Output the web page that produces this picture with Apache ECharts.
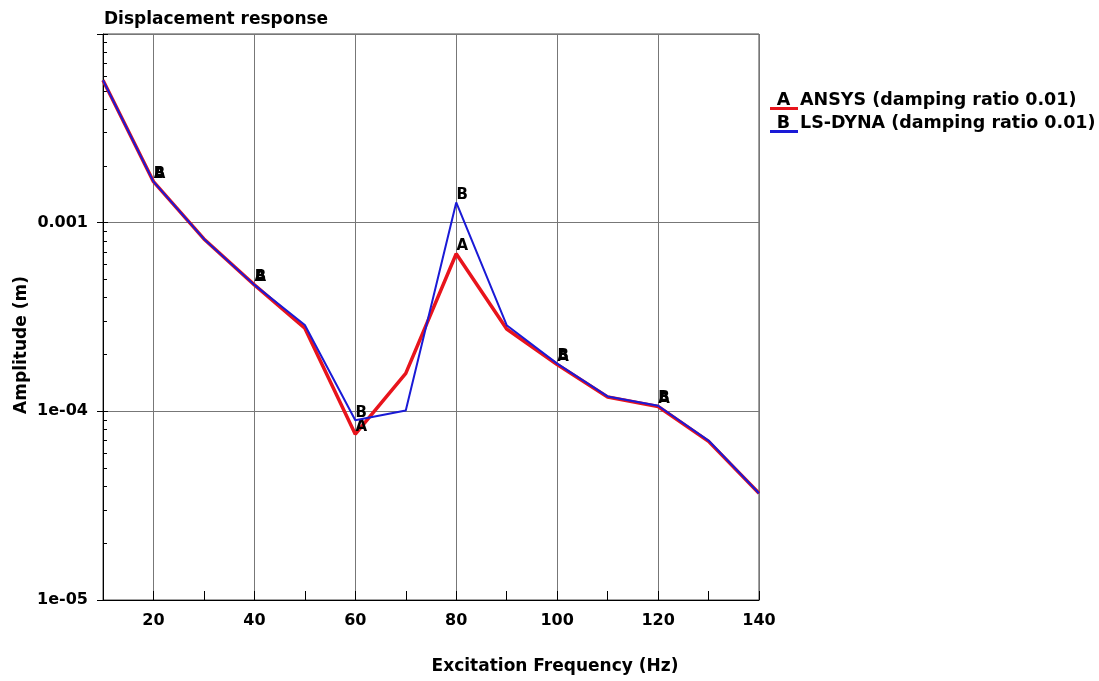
<!DOCTYPE html>
<html>
<head>
<meta charset="utf-8">
<script src="https://cdn.jsdelivr.net/npm/echarts@6/dist/echarts.min.js"></script>
<style>
  html, body { margin: 0; padding: 0; background: #fff; }
  #chart { width: 1099px; height: 681px; }
</style>
</head>
<body>
<div id="chart"></div>
<script>
// excitation frequencies (Hz)
const freqs = [10, 20, 30, 40, 50, 60, 70, 80, 90, 100, 110, 120, 130, 140];
// displacement amplitude (m)
const ansys = [0.00569, 0.00165, 0.00082, 0.000468, 0.000276, 0.0000757, 0.000159, 0.000684, 0.000273, 0.000177, 0.000119, 0.000106, 0.0000693, 0.0000368];
const lsdyna = [0.00569, 0.00165, 0.00082, 0.000468, 0.000287, 0.0000897, 0.000101, 0.00128, 0.000286, 0.000179, 0.000120, 0.000107, 0.0000700, 0.0000368];
const yTickLabels = { '-5': '1e-05', '-4': '1e-04', '-3': '0.001' };
const seriesNames = ['ANSYS (damping ratio 0.01)', 'LS-DYNA (damping ratio 0.01)'];
const seriesLetters = ['A', 'B'];
const colors = ['#e8141c', '#1a1ad6'];

const font = '"DejaVu Sans", "Liberation Sans", Arial, sans-serif';
const chart = echarts.init(document.getElementById('chart'));

function buildData(vals, letter) {
  return vals.map((v, i) => {
    const item = { value: [freqs[i], v] };
    if (freqs[i] % 20 === 0 && freqs[i] <= 120) {
      item.label = { show: true, formatter: letter };
    }
    return item;
  });
}

function buildSeries(idx, width) {
  return {
    name: seriesNames[idx],
    type: 'line',
    symbol: 'circle',
    symbolSize: 0,
    showSymbol: true,
    showAllSymbol: true,
    z: 2 + idx,
    data: buildData(idx === 0 ? ansys : lsdyna, seriesLetters[idx]),
    lineStyle: { color: colors[idx], width: width },
    itemStyle: { color: colors[idx] },
    label: {
      show: false,
      position: 'top',
      offset: [6, 5],
      color: '#000',
      fontFamily: font,
      fontSize: 15,
      fontWeight: 'bold',
    },
    emphasis: { disabled: true },
  };
}

function underline(color) {
  return new echarts.graphic.LinearGradient(0, 0, 0, 1, [
    { offset: 0, color: 'rgba(255,255,255,0)' },
    { offset: 0.85, color: 'rgba(255,255,255,0)' },
    { offset: 0.85, color: color },
    { offset: 1, color: color },
  ]);
}

const legendRich = {
  t: { fontFamily: font, fontSize: 17.5, fontWeight: 'bold', color: '#000', height: 20, padding: [0, 0, 0, 2] },
};
colors.forEach((c, i) => {
  legendRich['u' + i] = {
    fontFamily: font, fontSize: 17.5, fontWeight: 'bold', color: '#000',
    width: 27, height: 20, align: 'right', padding: [0, 1, 0, 0],
    backgroundColor: underline(c),
  };
});

chart.setOption({
  animation: false,
  title: {
    text: 'Displacement response',
    left: 99,
    top: 6,
    textStyle: { fontFamily: font, fontSize: 17, fontWeight: 'bold', color: '#000' },
  },
  legend: {
    orient: 'vertical',
    left: 760,
    top: 85,
    itemGap: 3,
    itemWidth: 0,
    itemHeight: 0,
    icon: 'rect',
    data: seriesNames.map((n) => ({ name: n })),
    formatter: (name) => {
      const i = seriesNames.indexOf(name);
      return '{u' + i + '|' + seriesLetters[i] + '}{t|' + name + '}';
    },
    textStyle: { fontFamily: font, fontSize: 17.5, color: '#000', rich: legendRich },
  },
  grid: {
    left: 103,
    right: 340,
    top: 34,
    bottom: 81,
    show: true,
    borderColor: '#444',
    borderWidth: 1,
  },
  xAxis: {
    type: 'value',
    min: 10,
    max: 140,
    interval: 10,
    name: 'Excitation Frequency (Hz)',
    nameLocation: 'middle',
    nameGap: 58,
    nameMoveOverlap: false,
    nameTextStyle: {
      fontFamily: font, fontSize: 17, fontWeight: 'bold', color: '#000',
      padding: [0, 0, 0, 248],
    },
    axisLine: { show: true, lineStyle: { color: '#000', width: 1 } },
    axisTick: { show: true, inside: true, length: 9, lineStyle: { color: '#000' } },
    axisLabel: {
      fontFamily: font, fontSize: 16, fontWeight: 'bold', color: '#000', margin: 13,
      formatter: (v) => (v % 20 === 0 ? String(v) : ''),
    },
    splitLine: { show: true, lineStyle: { color: ['transparent', '#777'], width: 1 } },
  },
  yAxis: [
    {
      type: 'log',
      logBase: 10,
      min: 1e-5,
      max: 1e-2,
      name: 'Amplitude (m)',
      nameLocation: 'middle',
      nameGap: 73,
      nameMoveOverlap: false,
      nameRotate: 90,
      nameTextStyle: {
        fontFamily: font, fontSize: 17, fontWeight: 'bold', color: '#000',
        padding: [0, 56, 0, 0],
      },
      axisLine: { show: true, lineStyle: { color: '#000', width: 1 } },
      axisTick: { show: true, inside: true, length: 5, lineStyle: { color: '#000' } },
      minorTick: { show: true, splitNumber: 9, length: 4, lineStyle: { color: '#000' } },
      axisLabel: {
        fontFamily: font, fontSize: 16, fontWeight: 'bold', color: '#000', margin: 15,
        showMaxLabel: false,
        formatter: (v) => yTickLabels[String(Math.round(Math.log10(v)))] || '',
      },
      splitLine: { show: true, lineStyle: { color: '#777', width: 1 } },
    },
    {
      // outward half of the major ticks
      type: 'log',
      logBase: 10,
      min: 1e-5,
      max: 1e-2,
      position: 'left',
      axisLine: { show: false },
      axisTick: { show: true, inside: false, length: 6, lineStyle: { color: '#000' } },
      axisLabel: { show: false },
      splitLine: { show: false },
    },
  ],
  series: [
    buildSeries(0, 3.5),
    buildSeries(1, 2),
  ],
});
</script>
</body>
</html>
